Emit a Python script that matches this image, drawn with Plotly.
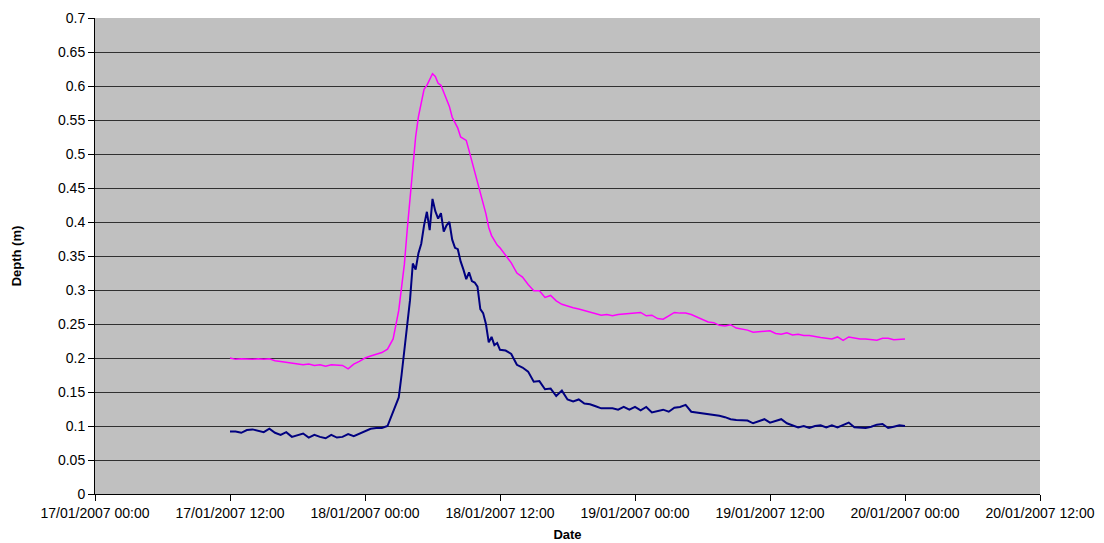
import plotly.graph_objects as go
from datetime import datetime, timedelta

start = datetime(2007, 1, 17, 12, 0)

# hour offsets from 17/01/2007 12:00
hours = ([i * 0.5 for i in range(0, 31)] +
         [15 + i * 0.25 for i in range(1, 37)] +
         [24 + i * 0.5 for i in range(1, 73)])

magenta_depth = [
    0.200, 0.198, 0.199, 0.198, 0.198, 0.199, 0.198, 0.199, 0.196, 0.195,
    0.194, 0.193, 0.192, 0.190, 0.191, 0.189, 0.190, 0.188, 0.190, 0.189,
    0.189, 0.184, 0.191, 0.195, 0.200, 0.203, 0.205, 0.208, 0.213, 0.228,
    0.270,
    0.300, 0.338, 0.388, 0.437, 0.487, 0.525, 0.555, 0.577, 0.595, 0.601,
    0.610, 0.618, 0.614, 0.604, 0.601, 0.590, 0.580, 0.570, 0.554, 0.545,
    0.538, 0.525, 0.523, 0.520, 0.505, 0.490, 0.474, 0.460, 0.445, 0.428,
    0.412, 0.392, 0.380, 0.373, 0.366, 0.362,
    0.351, 0.340, 0.325, 0.319, 0.308, 0.299, 0.299, 0.289, 0.292, 0.284,
    0.279, 0.276, 0.274, 0.272, 0.270, 0.268, 0.266, 0.263, 0.264, 0.262,
    0.264, 0.265, 0.266,
    0.266, 0.267, 0.262, 0.263, 0.258, 0.257, 0.262, 0.267, 0.266, 0.266,
    0.264, 0.260, 0.256, 0.253, 0.252, 0.248, 0.247, 0.249, 0.244, 0.243,
    0.241, 0.238, 0.239, 0.240, 0.240,
    0.236, 0.235, 0.237, 0.234, 0.235, 0.233, 0.233, 0.231, 0.230, 0.229,
    0.228, 0.231, 0.226, 0.231, 0.229, 0.228, 0.228, 0.227, 0.226, 0.229,
    0.229, 0.227, 0.227, 0.228,
]

navy_depth = [
    0.092, 0.092, 0.090, 0.094, 0.095, 0.093, 0.091, 0.096, 0.090, 0.087,
    0.091, 0.084, 0.087, 0.089, 0.083, 0.087, 0.084, 0.082, 0.087, 0.083,
    0.084, 0.088, 0.085, 0.089, 0.093, 0.096, 0.097, 0.097, 0.100, 0.120,
    0.142,
    0.175, 0.215, 0.255, 0.285, 0.339, 0.330, 0.354, 0.368, 0.395, 0.415,
    0.388, 0.434, 0.416, 0.405, 0.413, 0.386, 0.395, 0.400, 0.374, 0.362,
    0.360, 0.342, 0.330, 0.316, 0.326, 0.313, 0.311, 0.305, 0.272, 0.266,
    0.250, 0.223, 0.231, 0.219, 0.222, 0.212,
    0.211, 0.206, 0.190, 0.186, 0.180, 0.165, 0.166, 0.154, 0.155, 0.144,
    0.152, 0.139, 0.136, 0.139, 0.133, 0.132, 0.129, 0.126, 0.126, 0.126,
    0.124, 0.128, 0.124,
    0.128, 0.123, 0.128, 0.120, 0.122, 0.124, 0.121, 0.127, 0.128, 0.131,
    0.121, 0.120, 0.118, 0.117, 0.117, 0.115, 0.113, 0.110, 0.109, 0.108,
    0.108, 0.104, 0.107, 0.110, 0.105,
    0.108, 0.110, 0.104, 0.101, 0.098, 0.100, 0.097, 0.100, 0.101, 0.098,
    0.101, 0.098, 0.102, 0.105, 0.098, 0.097, 0.097, 0.099, 0.102, 0.103,
    0.097, 0.099, 0.101, 0.100,
]

times = [start + timedelta(hours=h) for h in hours]

fig = go.Figure()
fig.add_trace(go.Scatter(x=times, y=magenta_depth, mode="lines",
                         line=dict(color="#FF00FF", width=1.5), showlegend=False))
fig.add_trace(go.Scatter(x=times, y=navy_depth, mode="lines",
                         line=dict(color="#000080", width=2), showlegend=False))

font = "Liberation Sans, Arial, sans-serif"
# page body adds an 8px offset, so the figure is 8px smaller each way
fig.update_layout(
    width=1096, height=535,
    margin=dict(l=87, r=64, t=10, b=49, autoexpand=False),
    paper_bgcolor="white",
    plot_bgcolor="#C0C0C0",
    font=dict(family=font, size=14, color="black"),
)
fig.update_xaxes(
    type="date", automargin=False,
    range=[datetime(2007, 1, 17, 0, 0), datetime(2007, 1, 20, 12, 0)],
    dtick=12 * 3600 * 1000,
    tick0=datetime(2007, 1, 17, 0, 0),
    tickformat="%d/%m/%Y %H:%M",
    ticks="outside", ticklen=6, tickcolor="black",
    showline=True, linecolor="black", linewidth=1,
    showgrid=False, zeroline=False,
    title=dict(text="<b>Date</b>", font=dict(size=13), standoff=10),
)
fig.update_yaxes(
    range=[0, 0.7], dtick=0.05, tick0=0, automargin=False,
    ticks="outside", ticklen=6, tickcolor="black",
    showline=True, linecolor="black", linewidth=1,
    showgrid=True, gridcolor="#303030", gridwidth=1,
    zeroline=False,
    title=dict(text="<b>Depth (m)</b>", font=dict(size=13), standoff=33),
)

fig.write_html("out.html")
